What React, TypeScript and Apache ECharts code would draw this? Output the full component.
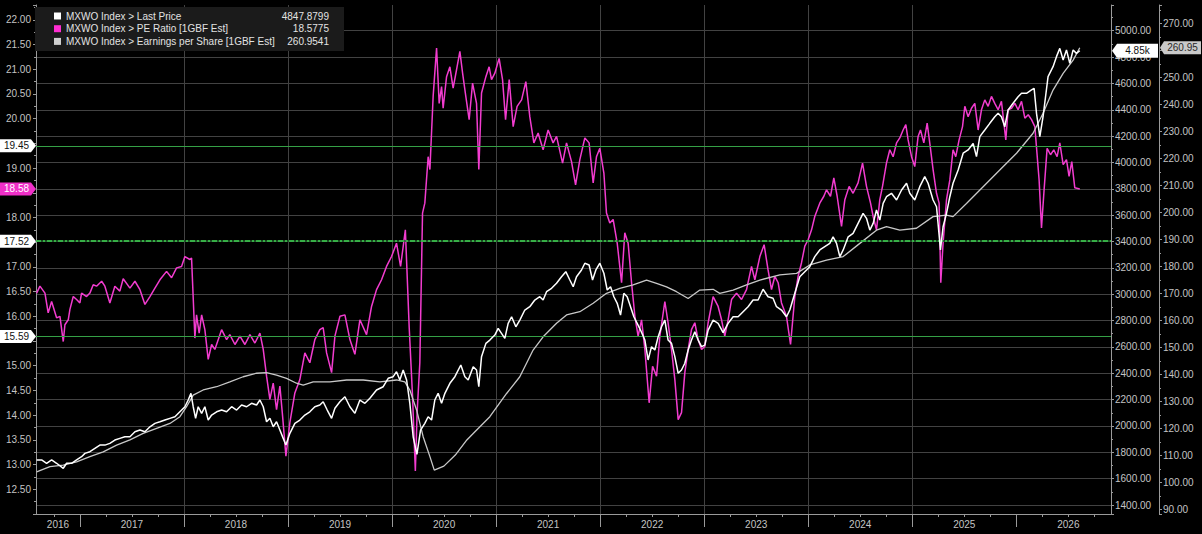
import React, { useEffect, useRef } from "react";
import * as echarts from "echarts";

// ---------- data (decimal years) ----------
const peDates = [
  2016.584, 2016.616, 2016.664, 2016.695, 2016.728, 2016.776, 2016.808, 2016.84, 2016.856, 2016.888, 2016.904, 2016.936, 2016.968,
  2017.0, 2017.016, 2017.064, 2017.096, 2017.128, 2017.16, 2017.209, 2017.24, 2017.288, 2017.336, 2017.384, 2017.416, 2017.481,
  2017.529, 2017.577, 2017.625, 2017.673, 2017.721, 2017.769, 2017.833, 2017.881, 2017.929, 2017.977, 2018.009, 2018.057, 2018.073,
  2018.105, 2018.121, 2018.146, 2018.17, 2018.201, 2018.233, 2018.266, 2018.297, 2018.362, 2018.41, 2018.441, 2018.49, 2018.538,
  2018.586, 2018.634, 2018.682, 2018.73, 2018.762, 2018.794, 2018.826, 2018.858, 2018.89, 2018.922, 2018.948, 2018.98, 2019.018,
  2019.066, 2019.114, 2019.162, 2019.21, 2019.258, 2019.306, 2019.338, 2019.371, 2019.419, 2019.451, 2019.499, 2019.547, 2019.595,
  2019.643, 2019.691, 2019.755, 2019.803, 2019.851, 2019.899, 2019.947, 2019.995, 2020.043, 2020.082, 2020.128, 2020.165, 2020.197,
  2020.224, 2020.241, 2020.267, 2020.293, 2020.315, 2020.347, 2020.364, 2020.395, 2020.428, 2020.453, 2020.476, 2020.491, 2020.524,
  2020.556, 2020.587, 2020.62, 2020.652, 2020.678, 2020.709, 2020.741, 2020.774, 2020.812, 2020.834, 2020.86, 2020.902, 2020.933,
  2020.956, 2020.988, 2021.029, 2021.062, 2021.091, 2021.126, 2021.164, 2021.202, 2021.245, 2021.286, 2021.324, 2021.363, 2021.404,
  2021.452, 2021.5, 2021.548, 2021.581, 2021.639, 2021.677, 2021.725, 2021.764, 2021.805, 2021.853, 2021.894, 2021.933, 2021.965,
  2021.997, 2022.036, 2022.061, 2022.093, 2022.125, 2022.164, 2022.206, 2022.237, 2022.269, 2022.302, 2022.334, 2022.365, 2022.398,
  2022.43, 2022.471, 2022.504, 2022.542, 2022.574, 2022.622, 2022.653, 2022.686, 2022.718, 2022.75, 2022.782, 2022.814, 2022.846,
  2022.878, 2022.91, 2022.942, 2022.975, 2023.006, 2023.038, 2023.086, 2023.134, 2023.167, 2023.198, 2023.23, 2023.263, 2023.311,
  2023.359, 2023.407, 2023.455, 2023.487, 2023.535, 2023.576, 2023.614, 2023.647, 2023.679, 2023.711, 2023.743, 2023.791, 2023.83,
  2023.871, 2023.903, 2023.935, 2023.967, 2023.999, 2024.032, 2024.063, 2024.111, 2024.15, 2024.176, 2024.214, 2024.246, 2024.278,
  2024.32, 2024.352, 2024.393, 2024.431, 2024.479, 2024.522, 2024.56, 2024.599, 2024.624, 2024.656, 2024.688, 2024.714, 2024.752,
  2024.784, 2024.816, 2024.849, 2024.88, 2024.912, 2024.938, 2024.96, 2024.993, 2025.024, 2025.056, 2025.079, 2025.111, 2025.143,
  2025.168, 2025.2, 2025.233, 2025.258, 2025.274, 2025.296, 2025.329, 2025.361, 2025.392, 2025.418, 2025.45, 2025.483, 2025.505,
  2025.537, 2025.569, 2025.601, 2025.633, 2025.665, 2025.697, 2025.729, 2025.761, 2025.793, 2025.825, 2025.857, 2025.899, 2025.921,
  2025.954, 2025.986, 2026.017, 2026.05, 2026.082, 2026.114, 2026.146, 2026.178, 2026.219, 2026.242, 2026.267, 2026.296, 2026.329,
  2026.36, 2026.392, 2026.418, 2026.45, 2026.482, 2026.507, 2026.533, 2026.562, 2026.61,
];
const peValues = [
  16.47, 16.61, 16.47, 16.07, 16.3, 15.97, 16.0, 15.49, 15.83, 15.93, 16.14, 16.4, 16.34,
  16.27, 16.47, 16.4, 16.47, 16.64, 16.61, 16.71, 16.61, 16.27, 16.61, 16.51, 16.76, 16.57,
  16.71, 16.54, 16.24, 16.4, 16.57, 16.74, 16.91, 16.78, 16.98, 17.01, 17.21, 17.15, 17.18,
  15.56, 16.03, 15.66, 16.03, 15.73, 15.13, 15.43, 15.33, 15.73, 15.53, 15.63, 15.43, 15.6,
  15.43, 15.63, 15.46, 15.66, 15.33, 14.79, 14.32, 14.65, 14.11, 14.59, 13.98, 13.17, 13.85,
  14.45, 14.72, 15.26, 15.06, 15.53, 15.73, 15.77, 15.26, 14.86, 15.6, 16.0, 16.03, 15.53,
  15.23, 15.93, 15.63, 16.2, 16.54, 16.74, 17.01, 17.21, 17.48, 17.01, 17.75, 15.77, 14.38,
  12.87, 14.05, 15.06, 18.09, 18.29, 19.23, 18.97, 20.45, 21.43, 20.31, 20.65, 20.21, 20.85,
  21.05, 20.62, 20.99, 21.36, 20.92, 20.45, 19.98, 20.72, 20.31, 18.97, 20.52, 20.85, 21.05,
  20.79, 20.92, 21.22, 20.79, 19.98, 20.79, 19.84, 20.25, 20.38, 20.75, 20.04, 19.51, 19.71,
  19.37, 19.77, 19.51, 19.64, 19.1, 19.51, 19.13, 18.66, 19.17, 19.61, 19.51, 18.7, 19.23,
  19.4, 18.9, 18.09, 17.89, 17.96, 17.48, 16.68, 17.69, 17.48, 16.68, 16.0, 15.6, 15.93,
  15.33, 14.25, 14.99, 14.79, 15.6, 16.3, 15.87, 15.33, 14.72, 13.91, 14.05, 14.86, 15.33,
  15.73, 15.87, 15.53, 15.33, 15.39, 15.87, 16.4, 16.2, 15.93, 15.6, 15.93, 16.34, 16.47,
  16.34, 16.54, 17.01, 16.74, 17.21, 17.45, 16.94, 16.54, 16.81, 16.68, 16.27, 16.0, 15.43,
  16.4, 16.81, 17.08, 17.42, 17.55, 17.75, 18.02, 18.29, 18.43, 18.56, 18.43, 18.8, 18.43,
  17.82, 18.36, 18.63, 18.49, 18.7, 19.1, 18.63, 18.29, 18.02, 17.75, 18.36, 18.63, 19.1,
  19.37, 19.23, 19.51, 19.61, 19.77, 19.88, 19.57, 19.23, 19.03, 19.64, 19.77, 19.51, 19.91,
  19.51, 18.97, 18.49, 18.29, 16.68, 17.48, 18.36, 18.76, 19.37, 19.23, 19.57, 19.84, 20.25,
  20.04, 20.21, 20.31, 19.77, 20.18, 20.38, 20.25, 20.45, 20.31, 20.18, 20.35, 19.57, 20.18,
  20.21, 20.31, 20.18, 20.35, 20.01, 20.08, 19.98, 19.84, 18.76, 17.79, 18.56, 19.4, 19.27,
  19.37, 19.23, 19.51, 19.07, 19.17, 18.83, 19.13, 18.6, 18.5775,
];

const priceDates = [
  2016.584, 2016.632, 2016.68, 2016.728, 2016.776, 2016.84, 2016.872, 2016.92, 2016.968, 2017.016, 2017.048, 2017.096, 2017.144,
  2017.192, 2017.24, 2017.288, 2017.336, 2017.384, 2017.432, 2017.481, 2017.529, 2017.577, 2017.625, 2017.673, 2017.721, 2017.769,
  2017.817, 2017.865, 2017.913, 2017.961, 2018.009, 2018.041, 2018.067, 2018.089, 2018.112, 2018.137, 2018.17, 2018.201, 2018.233,
  2018.266, 2018.314, 2018.362, 2018.41, 2018.458, 2018.506, 2018.554, 2018.602, 2018.65, 2018.698, 2018.73, 2018.762, 2018.794,
  2018.826, 2018.858, 2018.89, 2018.922, 2018.954, 2018.98, 2019.018, 2019.066, 2019.114, 2019.162, 2019.21, 2019.258, 2019.306,
  2019.338, 2019.377, 2019.419, 2019.451, 2019.499, 2019.547, 2019.595, 2019.643, 2019.691, 2019.739, 2019.787, 2019.851, 2019.915,
  2019.963, 2020.011, 2020.043, 2020.075, 2020.107, 2020.14, 2020.171, 2020.203, 2020.239, 2020.274, 2020.315, 2020.347, 2020.38,
  2020.411, 2020.443, 2020.476, 2020.508, 2020.556, 2020.604, 2020.661, 2020.7, 2020.732, 2020.78, 2020.812, 2020.834, 2020.86,
  2020.902, 2020.94, 2020.988, 2021.02, 2021.052, 2021.084, 2021.116, 2021.149, 2021.19, 2021.228, 2021.276, 2021.324, 2021.372,
  2021.42, 2021.452, 2021.485, 2021.533, 2021.581, 2021.629, 2021.67, 2021.709, 2021.741, 2021.773, 2021.821, 2021.853, 2021.894,
  2021.927, 2021.959, 2021.997, 2022.036, 2022.068, 2022.1, 2022.132, 2022.164, 2022.196, 2022.228, 2022.26, 2022.292, 2022.324,
  2022.356, 2022.388, 2022.43, 2022.461, 2022.494, 2022.526, 2022.558, 2022.59, 2022.622, 2022.653, 2022.686, 2022.718, 2022.75,
  2022.782, 2022.814, 2022.846, 2022.878, 2022.91, 2022.942, 2022.975, 2023.006, 2023.038, 2023.086, 2023.134, 2023.182, 2023.23,
  2023.278, 2023.326, 2023.374, 2023.422, 2023.47, 2023.518, 2023.566, 2023.614, 2023.662, 2023.695, 2023.743, 2023.791, 2023.823,
  2023.871, 2023.919, 2023.984, 2024.015, 2024.063, 2024.111, 2024.159, 2024.207, 2024.239, 2024.272, 2024.304, 2024.336, 2024.384,
  2024.431, 2024.479, 2024.527, 2024.56, 2024.592, 2024.624, 2024.656, 2024.688, 2024.72, 2024.752, 2024.8, 2024.849, 2024.897,
  2024.945, 2024.976, 2025.024, 2025.072, 2025.12, 2025.152, 2025.2, 2025.233, 2025.271, 2025.296, 2025.329, 2025.361, 2025.392,
  2025.441, 2025.489, 2025.537, 2025.585, 2025.617, 2025.649, 2025.697, 2025.745, 2025.793, 2025.825, 2025.857, 2025.889, 2025.921,
  2025.969, 2026.017, 2026.05, 2026.098, 2026.146, 2026.171, 2026.194, 2026.226, 2026.257, 2026.305, 2026.353, 2026.386, 2026.418,
  2026.45, 2026.482, 2026.514, 2026.546, 2026.578, 2026.61,
];
const priceValues = [
  1742, 1742, 1717, 1742, 1717, 1679, 1717, 1717, 1742, 1767, 1792, 1805, 1830,
  1855, 1855, 1868, 1893, 1906, 1918, 1918, 1956, 1969, 1956, 1994, 2020, 2032,
  2045, 2058, 2070, 2108, 2146, 2197, 2248, 2146, 2058, 2146, 2096, 2146, 2045,
  2083, 2108, 2121, 2108, 2146, 2121, 2159, 2146, 2172, 2159, 2197, 2146, 2032,
  2058, 1994, 2032, 1969, 1906, 1855, 1944, 2020, 2045, 2083, 2108, 2146, 2159,
  2184, 2121, 2058, 2134, 2184, 2222, 2146, 2096, 2197, 2172, 2210, 2273, 2298,
  2362, 2374, 2412, 2349, 2425, 2349, 2172, 1918, 1785, 1969, 2020, 2070, 2045,
  2197, 2248, 2172, 2248, 2324, 2374, 2463, 2374, 2349, 2450, 2425, 2298, 2526,
  2627, 2652, 2690, 2741, 2703, 2665, 2779, 2829, 2753, 2804, 2880, 2905, 2956,
  2981, 2956, 3019, 3045, 3083, 3133, 3171, 3108, 3057, 3133, 3184, 3235, 3222,
  3108, 3184, 3235, 3159, 3032, 3057, 2981, 2931, 2842, 3007, 2981, 2905, 2829,
  2779, 2728, 2652, 2501, 2602, 2577, 2678, 2753, 2804, 2652, 2627, 2526, 2400,
  2425, 2476, 2577, 2652, 2715, 2652, 2602, 2614, 2728, 2804, 2779, 2709, 2779,
  2829, 2829, 2867, 2905, 2956, 2956, 3038, 2981, 2970, 2905, 2880, 2829, 2880,
  3007, 3133, 3184, 3209, 3285, 3336, 3361, 3386, 3436, 3386, 3285, 3336, 3436,
  3462, 3538, 3614, 3576, 3487, 3538, 3639, 3563, 3690, 3740, 3766, 3715, 3791,
  3842, 3766, 3715, 3816, 3892, 3842, 3715, 3664, 3336, 3512, 3614, 3740, 3842,
  3943, 4070, 4095, 4145, 4044, 4196, 4246, 4297, 4347, 4373, 4347, 4271, 4398,
  4449, 4499, 4525, 4525, 4550, 4563, 4373, 4196, 4347, 4651, 4727, 4803, 4866,
  4778, 4854, 4753, 4854, 4828, 4847.8799,
];

const epsDates = [
  2016.584, 2016.712, 2016.84, 2016.968, 2017.096, 2017.224, 2017.353, 2017.481, 2017.608, 2017.737, 2017.865, 2017.961, 2018.025,
  2018.089, 2018.185, 2018.314, 2018.441, 2018.569, 2018.698, 2018.794, 2018.89, 2018.986, 2019.082, 2019.146, 2019.242, 2019.403,
  2019.563, 2019.723, 2019.883, 2020.043, 2020.123, 2020.171, 2020.236, 2020.299, 2020.364, 2020.406, 2020.498, 2020.608, 2020.719,
  2020.78, 2020.94, 2021.101, 2021.228, 2021.356, 2021.452, 2021.581, 2021.677, 2021.805, 2021.933, 2022.061, 2022.189, 2022.317,
  2022.446, 2022.542, 2022.638, 2022.734, 2022.846, 2022.958, 2023.086, 2023.15, 2023.278, 2023.407, 2023.535, 2023.727, 2023.888,
  2024.015, 2024.176, 2024.336, 2024.496, 2024.656, 2024.752, 2024.88, 2025.04, 2025.2, 2025.329, 2025.392, 2025.521, 2025.681,
  2025.841, 2026.002, 2026.161, 2026.257, 2026.353, 2026.45, 2026.546, 2026.61,
];
const epsValues = [
  103.9, 105.8, 106.4, 107.6, 109.5, 111.3, 113.8, 115.7, 118.1, 120.0, 121.8, 124.3, 128.0,
  132.3, 134.2, 135.4, 137.2, 139.1, 140.4, 140.6, 139.7, 138.5, 136.7, 136.0, 137.2, 137.2,
  137.9, 137.9, 137.2, 137.9, 137.2, 134.2, 126.8, 116.9, 109.5, 104.5, 106.0, 110.1, 115.7,
  118.1, 124.3, 132.9, 139.1, 149.0, 153.9, 158.9, 162.0, 163.2, 166.3, 170.0, 171.8, 173.1,
  174.9, 173.7, 172.4, 170.6, 168.1, 171.2, 171.5, 170.0, 171.2, 173.1, 174.9, 176.8, 177.4,
  180.5, 182.3, 183.6, 188.5, 193.4, 194.7, 193.4, 194.1, 198.4, 199.0, 198.4, 203.3, 209.5,
  215.7, 221.9, 229.3, 236.7, 245.3, 251.5, 256.4, 260.9541,
];

const legendNames = [
  "MXWO Index > Last Price",
  "MXWO Index > PE Ratio [1GBF Est]",
  "MXWO Index > Earnings per Share [1GBF Est]",
];
const lastPrice = 4847.8799;
const lastPE = 18.5775;
const lastEPS = 260.9541;
const peLevels = [19.45, 17.52, 15.59];
const years = [2016, 2017, 2018, 2019, 2020, 2021, 2022, 2023, 2024, 2025, 2026];

// ---------- layout / style ----------
const W = 1202;
const H = 534;
const X_MIN = 2016.578;
const X_MAX = 2026.91;
const FONT = '"Liberation Sans", Arial, sans-serif';
const AXIS = "#9a9a9a";
const LABEL = "#c4c4c4";
const GRID = "#424242";
const PINK = "#f23ccf";
const EPSC = "#c8c8c8";
const GREEN = "#35a046";

const GRID_LEFT = 36;
const GRID_RIGHT = 91;
const GRID_TOP = 5;
const GRID_BOTTOM = 20;

export default function App() {
  const ref = useRef<HTMLDivElement>(null);

  useEffect(() => {
    document.body.style.margin = "0";
    document.body.style.background = "#000";
    if (!ref.current) return;
    const chart = echarts.init(ref.current, undefined, { renderer: "svg", width: W, height: H });

    const yearTicks = years.filter((y) => y > X_MIN && y < X_MAX);
    const quarterTicks: number[] = [];
    years.forEach((y) => [0.25, 0.5, 0.75].forEach((q) => {
      const v = y + q;
      if (v > X_MIN && v < X_MAX) quarterTicks.push(v);
    }));
    const labelPos = years.map((y) => (y < X_MIN ? (X_MIN + y + 1) / 2 : y + 0.5));

    // labels that sit under an axis marker are left out (the marker covers them)
    const hiddenNear = (v: number, marks: number[], tol: number) => marks.some((m) => Math.abs(v - m) < tol);
    const peMarks = [...peLevels, lastPE];
    const fmtPE = (v: number) => (hiddenNear(v, peMarks, 0.12) ? "" : v.toFixed(2));
    const fmtPrice = (v: number) => v.toFixed(2);
    const fmtEPS = (v: number) => (hiddenNear(v, [lastEPS], 3) ? "" : v.toFixed(2));
    const lbl = { color: LABEL, fontSize: 10, fontFamily: FONT };

    const legendRowY = [16, 28.7, 41.4];
    const legendColors = ["#ffffff", "#ff2ed2", "#d0d0d0"];
    const legendVals = [lastPrice.toFixed(4), lastPE.toFixed(4), lastEPS.toFixed(4)];
    const legendGraphic: any[] = [
      { type: "rect", z: 100, shape: { x: 35, y: 7, width: 309, height: 44 }, style: { fill: "#1b1b1b" } },
    ];
    legendNames.forEach((n, i) => {
      legendGraphic.push({ type: "rect", z: 101, shape: { x: 54, y: legendRowY[i] - 3.5, width: 7, height: 7 }, style: { fill: legendColors[i] } });
      legendGraphic.push({ type: "text", z: 101, x: 66, y: legendRowY[i], style: { text: n, fill: "#e2e2e2", fontSize: 10, fontFamily: FONT, align: "left", verticalAlign: "middle" } });
      legendGraphic.push({ type: "text", z: 101, x: 329, y: legendRowY[i], style: { text: legendVals[i], fill: "#e2e2e2", fontSize: 10, fontFamily: FONT, align: "right", verticalAlign: "middle" } });
    });

    const option: any = {
      animation: false,
      backgroundColor: "#000",
      textStyle: { fontFamily: FONT },
      grid: { left: GRID_LEFT, right: GRID_RIGHT, top: GRID_TOP, bottom: GRID_BOTTOM },
      xAxis: [
        {
          type: "value", min: X_MIN, max: X_MAX, position: "bottom",
          splitNumber: 10, minInterval: 1, maxInterval: 1,
          axisLine: { show: true, onZero: false, lineStyle: { color: AXIS, width: 1 } },
          axisTick: { show: true, customValues: yearTicks, length: 13, lineStyle: { color: AXIS } },
          axisLabel: { show: false },
          splitLine: { show: true, showMinLine: false, showMaxLine: false, lineStyle: { color: GRID, width: 1 } },
        },
        {
          type: "value", min: X_MIN, max: X_MAX, position: "bottom",
          axisLine: { show: false, onZero: false },
          axisTick: { show: true, customValues: quarterTicks, length: 3, lineStyle: { color: AXIS } },
          axisLabel: { show: true, customValues: labelPos, formatter: (v: number) => String(Math.floor(v)), margin: 5, ...lbl },
          splitLine: { show: false },
        },
      ],
      yAxis: [
        {
          type: "value", position: "left", min: 12, max: 22.3, interval: 0.5,
          axisLine: { show: true, onZero: false, lineStyle: { color: AXIS } },
          axisTick: { show: true, length: 3, lineStyle: { color: AXIS } },
          minorTick: { show: true, splitNumber: 2, length: 2, lineStyle: { color: AXIS } },
          axisLabel: { formatter: fmtPE, margin: 5, showMinLabel: false, showMaxLabel: false, ...lbl },
          splitLine: { show: false },
        },
        {
          type: "value", position: "right", min: 1332, max: 5195, splitNumber: 19, minInterval: 200, maxInterval: 200,
          axisLine: { show: true, onZero: false, lineStyle: { color: AXIS } },
          axisTick: { show: true, length: 3, lineStyle: { color: AXIS } },
          minorTick: { show: true, splitNumber: 2, length: 2, lineStyle: { color: AXIS } },
          axisLabel: { formatter: fmtPrice, margin: 4, showMinLabel: false, showMaxLabel: false, ...lbl },
          splitLine: { show: true, showMinLine: false, showMaxLine: false, lineStyle: { color: GRID, width: 1 } },
        },
        {
          type: "value", position: "right", offset: 48, min: 88.26, max: 276.8, splitNumber: 19, minInterval: 10, maxInterval: 10,
          axisLine: { show: true, onZero: false, lineStyle: { color: AXIS } },
          axisTick: { show: true, length: 3, lineStyle: { color: AXIS } },
          minorTick: { show: true, splitNumber: 2, length: 2, lineStyle: { color: AXIS } },
          axisLabel: { formatter: fmtEPS, margin: 4, showMinLabel: false, showMaxLabel: false, ...lbl },
          splitLine: { show: false },
        },
      ],
      series: [
        {
          name: legendNames[1], type: "line", xAxisIndex: 0, yAxisIndex: 0, z: 3,
          showSymbol: false, symbol: "none",
          lineStyle: { color: PINK, width: 1.5 },
          data: peDates.map((d, i) => [d, peValues[i]]),
          markLine: {
            silent: true, symbol: ["none", "none"], label: { show: false },
            data: [
              { yAxis: peLevels[0], lineStyle: { color: GREEN, type: "solid", width: 1 } },
              { yAxis: peLevels[1], lineStyle: { color: "#1d5a26", type: "solid", width: 1.6 } },
              { yAxis: peLevels[1], lineStyle: { color: "#3fd052", type: [5, 2, 2, 2], width: 1.6 } },
              { yAxis: peLevels[2], lineStyle: { color: GREEN, type: "solid", width: 1 } },
            ],
          },
        },
        {
          name: legendNames[2], type: "line", xAxisIndex: 0, yAxisIndex: 2, z: 4,
          showSymbol: false, symbol: "none",
          lineStyle: { color: EPSC, width: 1.3 },
          data: epsDates.map((d, i) => [d, epsValues[i]]),
        },
        {
          name: legendNames[0], type: "line", xAxisIndex: 0, yAxisIndex: 1, z: 5,
          showSymbol: false, symbol: "none",
          lineStyle: { color: "#ffffff", width: 1.5 },
          data: priceDates.map((d, i) => [d, priceValues[i]]),
        },
      ],
      graphic: legendGraphic,
    };
    chart.setOption(option);

    // axis value markers positioned through the axes' own scales
    const yPE = (v: number) => chart.convertToPixel({ yAxisIndex: 0 } as any, v) as number;
    const yPr = (v: number) => chart.convertToPixel({ yAxisIndex: 1 } as any, v) as number;
    const yEp = (v: number) => chart.convertToPixel({ yAxisIndex: 2 } as any, v) as number;
    const xAxisL = GRID_LEFT;
    const xAxisR1 = W - GRID_RIGHT;
    const xAxisR2 = xAxisR1 + 48;

    const markers: any[] = [];
    const leftMarker = (val: number, fill: string, textFill: string) => {
      const yc = yPE(val);
      markers.push({
        type: "polygon", z: 110,
        shape: { points: [[0, yc - 6.5], [xAxisL - 5, yc - 6.5], [xAxisL, yc], [xAxisL - 5, yc + 6.5], [0, yc + 6.5]] },
        style: { fill },
      });
      markers.push({
        type: "text", z: 111, x: (xAxisL - 5) / 2 + 1, y: yc,
        style: { text: val.toFixed(2), fill: textFill, fontSize: 10, fontFamily: FONT, align: "center", verticalAlign: "middle" },
      });
    };
    leftMarker(peLevels[0], "#ffffff", "#111111");
    leftMarker(peLevels[1], "#ffffff", "#111111");
    leftMarker(peLevels[2], "#ffffff", "#111111");
    leftMarker(lastPE, "#f02fc8", "#ffffff");

    const yp = yPr(lastPrice);
    markers.push({
      type: "polygon", z: 110,
      shape: { points: [[xAxisR1 + 1, yp], [xAxisR1 + 6, yp - 7], [xAxisR2 - 1, yp - 7], [xAxisR2 - 1, yp + 7], [xAxisR1 + 6, yp + 7]] },
      style: { fill: "#ffffff" },
    });
    markers.push({
      type: "text", z: 111, x: (xAxisR1 + 6 + xAxisR2 - 1) / 2, y: yp,
      style: { text: (lastPrice / 1000).toFixed(2) + "k", fill: "#111111", fontSize: 10, fontFamily: FONT, align: "center", verticalAlign: "middle" },
    });
    const ye = yEp(lastEPS);
    markers.push({
      type: "polygon", z: 110,
      shape: { points: [[xAxisR2 + 1, ye], [xAxisR2 + 5, ye - 6.5], [W - 1, ye - 6.5], [W - 1, ye + 6.5], [xAxisR2 + 5, ye + 6.5]] },
      style: { fill: "#c9c9c9" },
    });
    markers.push({
      type: "text", z: 111, x: (xAxisR2 + 5 + W - 1) / 2, y: ye,
      style: { text: lastEPS.toFixed(2), fill: "#2a2a2a", fontSize: 10, fontFamily: FONT, align: "center", verticalAlign: "middle" },
    });

    chart.setOption({ graphic: legendGraphic.concat(markers) });

    return () => chart.dispose();
  }, []);

  return <div ref={ref} style={{ width: W, height: H, background: "#000" }} />;
}
